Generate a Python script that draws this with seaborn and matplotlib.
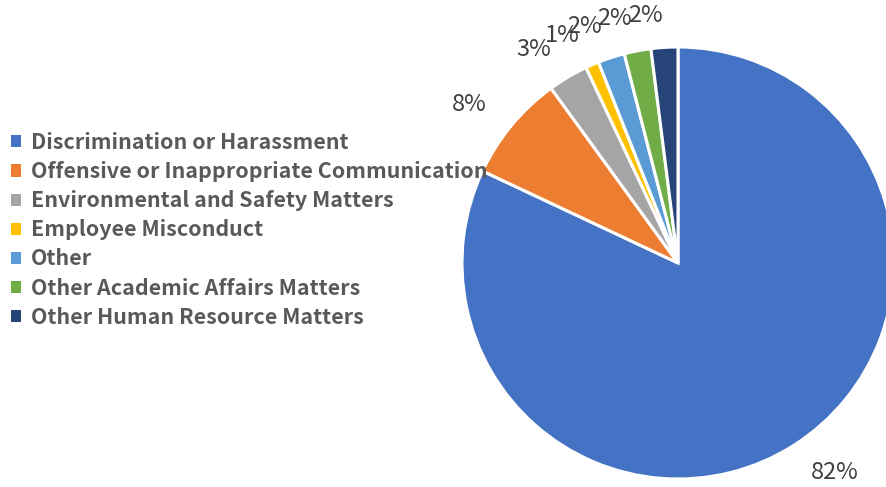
import matplotlib
matplotlib.use("Agg")
import matplotlib.pyplot as plt
from matplotlib.patches import Patch
import seaborn as sns

categories = [
    "Discrimination or Harassment",
    "Offensive or Inappropriate Communication",
    "Environmental and Safety Matters",
    "Employee Misconduct",
    "Other",
    "Other Academic Affairs Matters",
    "Other Human Resource Matters",
]
shares = [82, 8, 3, 1, 2, 2, 2]
colors = ["#4472C4", "#ED7D31", "#A5A5A5", "#FFC000", "#5B9BD5", "#70AD47", "#264478"]

sns.set_theme(style="white")
plt.rcParams["font.family"] = ["Noto Sans CJK SC", "DejaVu Sans"]

W, H = 886, 487
fig = plt.figure(figsize=(W / 100, H / 100), dpi=100)
fig.patch.set_facecolor("white")

cx, cy, r = 678, 224, 216
ax = fig.add_axes([(cx - r) / W, (cy - r) / H, 2 * r / W, 2 * r / H])
wedges, texts = ax.pie(
    shares,
    colors=colors,
    startangle=90,
    counterclock=False,
    labels=[f"{v}%" for v in shares],
    labeldistance=1.15,
    wedgeprops=dict(edgecolor="white", linewidth=2.2),
    textprops=dict(fontsize=17, color="#404040"),
)
ax.set_xlim(-1, 1)
ax.set_ylim(-1, 1)
ax.set_aspect("equal")
ax.axis("off")

handles = [Patch(facecolor=c, edgecolor="none") for c in colors]
leg = fig.legend(
    handles, categories,
    loc="center left", bbox_to_anchor=(0.0, 0.528),
    frameon=False,
    prop=dict(family=["Noto Sans CJK SC", "DejaVu Sans"], weight="bold", size=15.4),
    handlelength=0.5, handleheight=0.5, handletextpad=0.45,
    labelspacing=0.38, borderaxespad=0.1,
)
for t in leg.get_texts():
    t.set_family(["Noto Sans CJK SC", "DejaVu Sans"])
    t.set_weight("bold")
    t.set_color("#595959")

fig.savefig("out.png", dpi=100, facecolor="white")
